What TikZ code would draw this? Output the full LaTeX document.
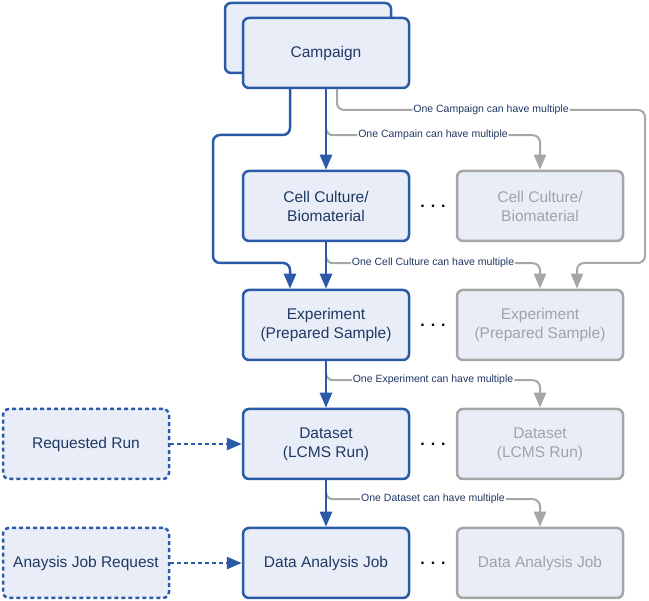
\documentclass[tikz,border=0pt]{standalone}
\usepackage{fontspec}
\setmainfont{Liberation Sans}
\usetikzlibrary{arrows.meta,calc}
\definecolor{B}{RGB}{43,91,168}
\definecolor{Bfill}{RGB}{232,237,247}
\definecolor{G}{RGB}{166,166,166}
\definecolor{T}{RGB}{32,56,100}
\definecolor{Gt}{RGB}{163,163,163}
\tikzset{
  box/.style={draw=B, line width=2.5pt, fill=Bfill, rounded corners=6pt,
    minimum width=166pt, minimum height=70pt, text=T, align=center,
    font=\fontsize{15.5}{19}\selectfont},
  ghostbox/.style={box, draw=G, text=Gt},
  reqbox/.style={box, dash pattern=on 4pt off 3pt},
  flow/.style={draw=B, line width=2.5pt, -{Triangle[length=15pt,width=12pt]}},
  reqflow/.style={flow, dash pattern=on 4pt off 3pt},
  ghostline/.style={draw=G, line width=2pt, -{Triangle[length=15pt,width=12pt]}},
  note/.style={fill=white, inner sep=1pt, text=T, font=\fontsize{10.5}{12}\selectfont},
  dots/.style={font=\fontsize{16}{16}\selectfont\bfseries}
}
\newcommand{\branch}[4]{
  \draw[ghostline, rounded corners=7pt] ($(#1.south)+(0,#2)$) -- ++(0,8) -| node[note,pos=.25]{#4} (#3.north);
}
\newcommand{\more}[2]{\node[dots] at ($(#1.east)!.5!(#2.west)$) {. . .};}

\begin{document}
\begin{tikzpicture}[x=1pt,y=-1pt]
\useasboundingbox (0,0) rectangle (649,601);
% campaign stack
\node[box] (campback) at (308,38) {};
\node[box] (camp) at (326,53) {Campaign};
% main column
\node[box] (cell) at (326,206) {Cell Culture/\\Biomaterial};
\node[box] (exp) at (326,325) {Experiment\\(Prepared Sample)};
\node[box] (data) at (326,444) {Dataset\\(LCMS Run)};
\node[box] (job) at (326,563) {Data Analysis Job};
% the other ones
\node[ghostbox] (cellg) at (540,206) {Cell Culture/\\Biomaterial};
\node[ghostbox] (expg) at (540,325) {Experiment\\(Prepared Sample)};
\node[ghostbox] (datag) at (540,444) {Dataset\\(LCMS Run)};
\node[ghostbox] (jobg) at (540,563) {Data Analysis Job};
\more{cell}{cellg}\more{exp}{expg}\more{data}{datag}\more{job}{jobg}
% requests
\node[reqbox] (req) at (86,444) {Requested Run};
\node[reqbox] (jobreq) at (86,563) {Anaysis Job Request};
% grey links
\coordinate (g0) at (645,110);
\coordinate (g1) at (577,263);
\draw[ghostline, rounded corners=7pt] ([xshift=11pt]camp.south) |- node[note,pos=.75]{One Campaign can have multiple} (g0) |- (g1) -- ([xshift=37pt]expg.north);
\branch{camp}{38}{cellg}{One Campain can have multiple}
\branch{cell}{13}{expg}{One Cell Culture can have multiple}
\branch{exp}{11}{datag}{One Experiment can have multiple}
\branch{data}{11}{jobg}{One Dataset can have multiple}
% blue links
\coordinate (t1) at (213,135);
\coordinate (t2) at (290,263);
\draw[flow, rounded corners=7pt] ([xshift=-36pt]camp.south) |- (t1) |- (t2) -- ([xshift=-36pt]exp.north);
\draw[flow] (camp) -- (cell);
\draw[flow] (cell) -- (exp);
\draw[flow] (exp) -- (data);
\draw[flow] (data) -- (job);
\draw[reqflow] (req) -- (data);
\draw[reqflow] (jobreq) -- (job);
\end{tikzpicture}
\end{document}
